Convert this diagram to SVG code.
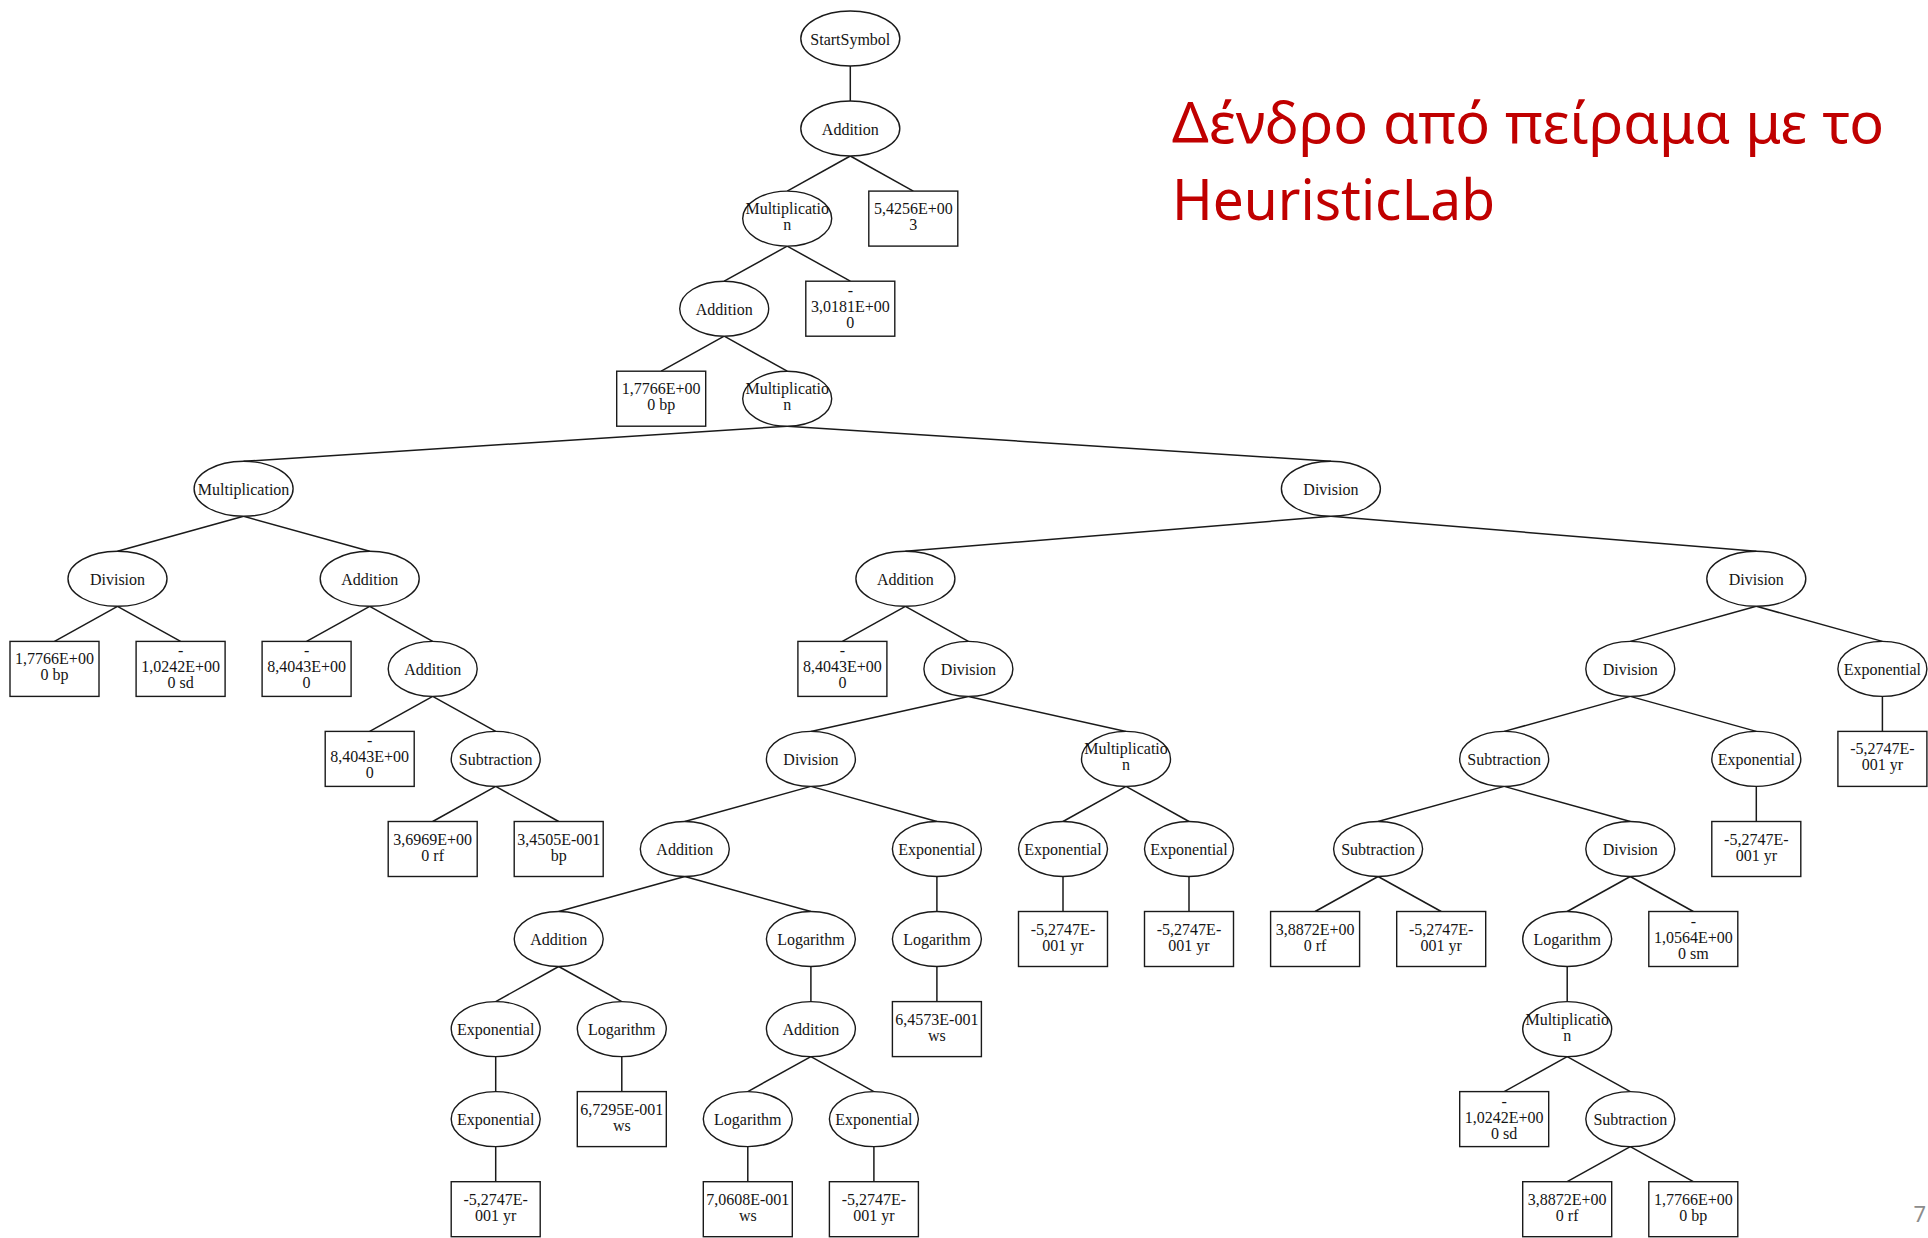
<svg xmlns="http://www.w3.org/2000/svg" width="1928" height="1238" viewBox="0 0 1928 1238">
<style>
  .bg{fill:#ffffff}
  .e{fill:#ffffff;stroke:#1a1a1a;stroke-width:1.4}
  .b{fill:#ffffff;stroke:#1a1a1a;stroke-width:1.4}
  .t{font-family:"Liberation Serif","Times New Roman",serif;font-size:16px;fill:#141414;text-anchor:middle}
  #edges line{stroke:#1a1a1a;stroke-width:1.5}
  .title{font-family:"Noto Sans","Open Sans",sans-serif;font-size:56px;fill:#c00000}
  .pg{font-family:"Noto Sans",sans-serif;font-size:22px;fill:#8c8c8c;text-anchor:end}
</style>
<rect class="bg" x="0" y="0" width="1928" height="1238"/>

<g id="edges">
  <line x1="850.3" y1="66" x2="850.3" y2="101"/>
  <line x1="850.3" y1="156" x2="787.2" y2="191.1"/>
  <line x1="850.3" y1="156" x2="913.3" y2="191.1"/>
  <line x1="787.2" y1="246.1" x2="724.2" y2="281.2"/>
  <line x1="787.2" y1="246.1" x2="850.3" y2="281.2"/>
  <line x1="724.2" y1="336.2" x2="661.2" y2="371.2"/>
  <line x1="724.2" y1="336.2" x2="787.2" y2="371.2"/>
  <line x1="787.2" y1="426.2" x2="243.6" y2="461.3"/>
  <line x1="787.2" y1="426.2" x2="1330.9" y2="461.3"/>
  <line x1="243.6" y1="516.3" x2="117.5" y2="551.3"/>
  <line x1="243.6" y1="516.3" x2="369.7" y2="551.3"/>
  <line x1="1330.9" y1="516.3" x2="905.4" y2="551.3"/>
  <line x1="1330.9" y1="516.3" x2="1756.3" y2="551.3"/>
  <line x1="117.5" y1="606.3" x2="54.5" y2="641.4"/>
  <line x1="117.5" y1="606.3" x2="180.6" y2="641.4"/>
  <line x1="369.7" y1="606.3" x2="306.6" y2="641.4"/>
  <line x1="369.7" y1="606.3" x2="432.7" y2="641.4"/>
  <line x1="905.4" y1="606.3" x2="842.4" y2="641.4"/>
  <line x1="905.4" y1="606.3" x2="968.4" y2="641.4"/>
  <line x1="1756.3" y1="606.3" x2="1630.3" y2="641.4"/>
  <line x1="1756.3" y1="606.3" x2="1882.4" y2="641.4"/>
  <line x1="432.7" y1="696.4" x2="369.7" y2="731.4"/>
  <line x1="432.7" y1="696.4" x2="495.7" y2="731.4"/>
  <line x1="968.4" y1="696.4" x2="810.9" y2="731.4"/>
  <line x1="968.4" y1="696.4" x2="1126" y2="731.4"/>
  <line x1="1630.3" y1="696.4" x2="1504.2" y2="731.4"/>
  <line x1="1630.3" y1="696.4" x2="1756.3" y2="731.4"/>
  <line x1="1882.4" y1="696.4" x2="1882.4" y2="731.4"/>
  <line x1="495.7" y1="786.4" x2="432.7" y2="821.5"/>
  <line x1="495.7" y1="786.4" x2="558.7" y2="821.5"/>
  <line x1="810.9" y1="786.4" x2="684.8" y2="821.5"/>
  <line x1="810.9" y1="786.4" x2="936.9" y2="821.5"/>
  <line x1="1126" y1="786.4" x2="1063" y2="821.5"/>
  <line x1="1126" y1="786.4" x2="1189" y2="821.5"/>
  <line x1="1504.2" y1="786.4" x2="1378.1" y2="821.5"/>
  <line x1="1504.2" y1="786.4" x2="1630.3" y2="821.5"/>
  <line x1="1756.3" y1="786.4" x2="1756.3" y2="821.5"/>
  <line x1="684.8" y1="876.5" x2="558.7" y2="911.5"/>
  <line x1="684.8" y1="876.5" x2="810.9" y2="911.5"/>
  <line x1="936.9" y1="876.5" x2="936.9" y2="911.5"/>
  <line x1="1063" y1="876.5" x2="1063" y2="911.5"/>
  <line x1="1189" y1="876.5" x2="1189" y2="911.5"/>
  <line x1="1378.1" y1="876.5" x2="1315.1" y2="911.5"/>
  <line x1="1378.1" y1="876.5" x2="1441.2" y2="911.5"/>
  <line x1="1630.3" y1="876.5" x2="1567.2" y2="911.5"/>
  <line x1="1630.3" y1="876.5" x2="1693.3" y2="911.5"/>
  <line x1="558.7" y1="966.5" x2="495.7" y2="1001.6"/>
  <line x1="558.7" y1="966.5" x2="621.8" y2="1001.6"/>
  <line x1="810.9" y1="966.5" x2="810.9" y2="1001.6"/>
  <line x1="936.9" y1="966.5" x2="936.9" y2="1001.6"/>
  <line x1="1567.2" y1="966.5" x2="1567.2" y2="1001.6"/>
  <line x1="495.7" y1="1056.6" x2="495.7" y2="1091.6"/>
  <line x1="621.8" y1="1056.6" x2="621.8" y2="1091.6"/>
  <line x1="810.9" y1="1056.6" x2="747.8" y2="1091.6"/>
  <line x1="810.9" y1="1056.6" x2="873.9" y2="1091.6"/>
  <line x1="1567.2" y1="1056.6" x2="1504.2" y2="1091.6"/>
  <line x1="1567.2" y1="1056.6" x2="1630.3" y2="1091.6"/>
  <line x1="495.7" y1="1146.6" x2="495.7" y2="1181.7"/>
  <line x1="747.8" y1="1146.6" x2="747.8" y2="1181.7"/>
  <line x1="873.9" y1="1146.6" x2="873.9" y2="1181.7"/>
  <line x1="1630.3" y1="1146.6" x2="1567.2" y2="1181.7"/>
  <line x1="1630.3" y1="1146.6" x2="1693.3" y2="1181.7"/>
</g>

<!-- level 0-4 -->
<g id="n0"><ellipse class="e" cx="850.3" cy="38.5" rx="49.5" ry="27.5"/><text class="t" x="850.3" y="44.5">StartSymbol</text></g>
<g id="n1"><ellipse class="e" cx="850.3" cy="128.5" rx="49.5" ry="27.5"/><text class="t" x="850.3" y="134.5">Addition</text></g>
<g id="n2"><ellipse class="e" cx="787.2" cy="218.6" rx="44.5" ry="27.5"/><text class="t" x="787.2" y="214.1">Multiplicatio</text><text class="t" x="787.2" y="230.1">n</text></g>
<g id="n3"><rect class="b" x="868.8" y="191.1" width="89" height="55"/><text class="t" x="913.3" y="214.1">5,4256E+00</text><text class="t" x="913.3" y="230.1">3</text></g>
<g id="n4"><ellipse class="e" cx="724.2" cy="308.7" rx="44.5" ry="27.5"/><text class="t" x="724.2" y="314.7">Addition</text></g>
<g id="n5"><rect class="b" x="805.8" y="281.2" width="89" height="55"/><text class="t" x="850.3" y="296.2">-</text><text class="t" x="850.3" y="312.2">3,0181E+00</text><text class="t" x="850.3" y="328.2">0</text></g>
<g id="n6"><rect class="b" x="616.7" y="371.2" width="89" height="55"/><text class="t" x="661.2" y="394.2">1,7766E+00</text><text class="t" x="661.2" y="410.2">0 bp</text></g>
<g id="n7"><ellipse class="e" cx="787.2" cy="398.7" rx="44.5" ry="27.5"/><text class="t" x="787.2" y="394.2">Multiplicatio</text><text class="t" x="787.2" y="410.2">n</text></g>

<!-- level 5 -->
<g id="n8"><ellipse class="e" cx="243.6" cy="488.8" rx="49.5" ry="27.5"/><text class="t" x="243.6" y="494.8">Multiplication</text></g>
<g id="n9"><ellipse class="e" cx="1330.9" cy="488.8" rx="49.5" ry="27.5"/><text class="t" x="1330.9" y="494.8">Division</text></g>

<!-- level 6 -->
<g id="n10"><ellipse class="e" cx="117.5" cy="578.8" rx="49.5" ry="27.5"/><text class="t" x="117.5" y="584.8">Division</text></g>
<g id="n11"><ellipse class="e" cx="369.7" cy="578.8" rx="49.5" ry="27.5"/><text class="t" x="369.7" y="584.8">Addition</text></g>
<g id="n12"><ellipse class="e" cx="905.4" cy="578.8" rx="49.5" ry="27.5"/><text class="t" x="905.4" y="584.8">Addition</text></g>
<g id="n13"><ellipse class="e" cx="1756.3" cy="578.8" rx="49.5" ry="27.5"/><text class="t" x="1756.3" y="584.8">Division</text></g>

<!-- level 7 -->
<g id="n14"><rect class="b" x="10" y="641.4" width="89" height="55"/><text class="t" x="54.5" y="664.4">1,7766E+00</text><text class="t" x="54.5" y="680.4">0 bp</text></g>
<g id="n15"><rect class="b" x="136.1" y="641.4" width="89" height="55"/><text class="t" x="180.6" y="656.4">-</text><text class="t" x="180.6" y="672.4">1,0242E+00</text><text class="t" x="180.6" y="688.4">0 sd</text></g>
<g id="n16"><rect class="b" x="262.1" y="641.4" width="89" height="55"/><text class="t" x="306.6" y="656.4">-</text><text class="t" x="306.6" y="672.4">8,4043E+00</text><text class="t" x="306.6" y="688.4">0</text></g>
<g id="n17"><ellipse class="e" cx="432.7" cy="668.9" rx="44.5" ry="27.5"/><text class="t" x="432.7" y="674.9">Addition</text></g>
<g id="n18"><rect class="b" x="797.9" y="641.4" width="89" height="55"/><text class="t" x="842.4" y="656.4">-</text><text class="t" x="842.4" y="672.4">8,4043E+00</text><text class="t" x="842.4" y="688.4">0</text></g>
<g id="n19"><ellipse class="e" cx="968.4" cy="668.9" rx="44.5" ry="27.5"/><text class="t" x="968.4" y="674.9">Division</text></g>
<g id="n20"><ellipse class="e" cx="1630.3" cy="668.9" rx="44.5" ry="27.5"/><text class="t" x="1630.3" y="674.9">Division</text></g>
<g id="n21"><ellipse class="e" cx="1882.4" cy="668.9" rx="44.5" ry="27.5"/><text class="t" x="1882.4" y="674.9">Exponential</text></g>

<!-- level 8 -->
<g id="n22"><rect class="b" x="325.2" y="731.4" width="89" height="55"/><text class="t" x="369.7" y="746.4">-</text><text class="t" x="369.7" y="762.4">8,4043E+00</text><text class="t" x="369.7" y="778.4">0</text></g>
<g id="n23"><ellipse class="e" cx="495.7" cy="758.9" rx="44.5" ry="27.5"/><text class="t" x="495.7" y="764.9">Subtraction</text></g>
<g id="n24"><ellipse class="e" cx="810.9" cy="758.9" rx="44.5" ry="27.5"/><text class="t" x="810.9" y="764.9">Division</text></g>
<g id="n25"><ellipse class="e" cx="1126" cy="758.9" rx="44.5" ry="27.5"/><text class="t" x="1126" y="754.4">Multiplicatio</text><text class="t" x="1126" y="770.4">n</text></g>
<g id="n26"><ellipse class="e" cx="1504.2" cy="758.9" rx="44.5" ry="27.5"/><text class="t" x="1504.2" y="764.9">Subtraction</text></g>
<g id="n27"><ellipse class="e" cx="1756.3" cy="758.9" rx="44.5" ry="27.5"/><text class="t" x="1756.3" y="764.9">Exponential</text></g>
<g id="n28"><rect class="b" x="1837.9" y="731.4" width="89" height="55"/><text class="t" x="1882.4" y="754.4">-5,2747E-</text><text class="t" x="1882.4" y="770.4">001 yr</text></g>

<!-- level 9 -->
<g id="n29"><rect class="b" x="388.2" y="821.5" width="89" height="55"/><text class="t" x="432.7" y="844.5">3,6969E+00</text><text class="t" x="432.7" y="860.5">0 rf</text></g>
<g id="n30"><rect class="b" x="514.2" y="821.5" width="89" height="55"/><text class="t" x="558.7" y="844.5">3,4505E-001</text><text class="t" x="558.7" y="860.5">bp</text></g>
<g id="n31"><ellipse class="e" cx="684.8" cy="849" rx="44.5" ry="27.5"/><text class="t" x="684.8" y="855">Addition</text></g>
<g id="n32"><ellipse class="e" cx="936.9" cy="849" rx="44.5" ry="27.5"/><text class="t" x="936.9" y="855">Exponential</text></g>
<g id="n33"><ellipse class="e" cx="1063" cy="849" rx="44.5" ry="27.5"/><text class="t" x="1063" y="855">Exponential</text></g>
<g id="n34"><ellipse class="e" cx="1189" cy="849" rx="44.5" ry="27.5"/><text class="t" x="1189" y="855">Exponential</text></g>
<g id="n35"><ellipse class="e" cx="1378.1" cy="849" rx="44.5" ry="27.5"/><text class="t" x="1378.1" y="855">Subtraction</text></g>
<g id="n36"><ellipse class="e" cx="1630.3" cy="849" rx="44.5" ry="27.5"/><text class="t" x="1630.3" y="855">Division</text></g>
<g id="n37"><rect class="b" x="1711.8" y="821.5" width="89" height="55"/><text class="t" x="1756.3" y="844.5">-5,2747E-</text><text class="t" x="1756.3" y="860.5">001 yr</text></g>

<!-- level 10 -->
<g id="n38"><ellipse class="e" cx="558.7" cy="939" rx="44.5" ry="27.5"/><text class="t" x="558.7" y="945">Addition</text></g>
<g id="n39"><ellipse class="e" cx="810.9" cy="939" rx="44.5" ry="27.5"/><text class="t" x="810.9" y="945">Logarithm</text></g>
<g id="n40"><ellipse class="e" cx="936.9" cy="939" rx="44.5" ry="27.5"/><text class="t" x="936.9" y="945">Logarithm</text></g>
<g id="n41"><rect class="b" x="1018.5" y="911.5" width="89" height="55"/><text class="t" x="1063" y="934.5">-5,2747E-</text><text class="t" x="1063" y="950.5">001 yr</text></g>
<g id="n42"><rect class="b" x="1144.5" y="911.5" width="89" height="55"/><text class="t" x="1189" y="934.5">-5,2747E-</text><text class="t" x="1189" y="950.5">001 yr</text></g>
<g id="n43"><rect class="b" x="1270.6" y="911.5" width="89" height="55"/><text class="t" x="1315.1" y="934.5">3,8872E+00</text><text class="t" x="1315.1" y="950.5">0 rf</text></g>
<g id="n44"><rect class="b" x="1396.7" y="911.5" width="89" height="55"/><text class="t" x="1441.2" y="934.5">-5,2747E-</text><text class="t" x="1441.2" y="950.5">001 yr</text></g>
<g id="n45"><ellipse class="e" cx="1567.2" cy="939" rx="44.5" ry="27.5"/><text class="t" x="1567.2" y="945">Logarithm</text></g>
<g id="n46"><rect class="b" x="1648.8" y="911.5" width="89" height="55"/><text class="t" x="1693.3" y="926.5">-</text><text class="t" x="1693.3" y="942.5">1,0564E+00</text><text class="t" x="1693.3" y="958.5">0 sm</text></g>

<!-- level 11 -->
<g id="n47"><ellipse class="e" cx="495.7" cy="1029.1" rx="44.5" ry="27.5"/><text class="t" x="495.7" y="1035.1">Exponential</text></g>
<g id="n48"><ellipse class="e" cx="621.8" cy="1029.1" rx="44.5" ry="27.5"/><text class="t" x="621.8" y="1035.1">Logarithm</text></g>
<g id="n49"><ellipse class="e" cx="810.9" cy="1029.1" rx="44.5" ry="27.5"/><text class="t" x="810.9" y="1035.1">Addition</text></g>
<g id="n50"><rect class="b" x="892.4" y="1001.6" width="89" height="55"/><text class="t" x="936.9" y="1024.6">6,4573E-001</text><text class="t" x="936.9" y="1040.6">ws</text></g>
<g id="n51"><ellipse class="e" cx="1567.2" cy="1029.1" rx="44.5" ry="27.5"/><text class="t" x="1567.2" y="1024.6">Multiplicatio</text><text class="t" x="1567.2" y="1040.6">n</text></g>

<!-- level 12 -->
<g id="n52"><ellipse class="e" cx="495.7" cy="1119.1" rx="44.5" ry="27.5"/><text class="t" x="495.7" y="1125.1">Exponential</text></g>
<g id="n53"><rect class="b" x="577.3" y="1091.6" width="89" height="55"/><text class="t" x="621.8" y="1114.6">6,7295E-001</text><text class="t" x="621.8" y="1130.6">ws</text></g>
<g id="n54"><ellipse class="e" cx="747.8" cy="1119.1" rx="44.5" ry="27.5"/><text class="t" x="747.8" y="1125.1">Logarithm</text></g>
<g id="n55"><ellipse class="e" cx="873.9" cy="1119.1" rx="44.5" ry="27.5"/><text class="t" x="873.9" y="1125.1">Exponential</text></g>
<g id="n56"><rect class="b" x="1459.7" y="1091.6" width="89" height="55"/><text class="t" x="1504.2" y="1106.6">-</text><text class="t" x="1504.2" y="1122.6">1,0242E+00</text><text class="t" x="1504.2" y="1138.6">0 sd</text></g>
<g id="n57"><ellipse class="e" cx="1630.3" cy="1119.1" rx="44.5" ry="27.5"/><text class="t" x="1630.3" y="1125.1">Subtraction</text></g>

<!-- level 13 -->
<g id="n58"><rect class="b" x="451.2" y="1181.7" width="89" height="55"/><text class="t" x="495.7" y="1204.7">-5,2747E-</text><text class="t" x="495.7" y="1220.7">001 yr</text></g>
<g id="n59"><rect class="b" x="703.3" y="1181.7" width="89" height="55"/><text class="t" x="747.8" y="1204.7">7,0608E-001</text><text class="t" x="747.8" y="1220.7">ws</text></g>
<g id="n60"><rect class="b" x="829.4" y="1181.7" width="89" height="55"/><text class="t" x="873.9" y="1204.7">-5,2747E-</text><text class="t" x="873.9" y="1220.7">001 yr</text></g>
<g id="n61"><rect class="b" x="1522.7" y="1181.7" width="89" height="55"/><text class="t" x="1567.2" y="1204.7">3,8872E+00</text><text class="t" x="1567.2" y="1220.7">0 rf</text></g>
<g id="n62"><rect class="b" x="1648.8" y="1181.7" width="89" height="55"/><text class="t" x="1693.3" y="1204.7">1,7766E+00</text><text class="t" x="1693.3" y="1220.7">0 bp</text></g>

<g id="title">
  <text class="title" x="1172" y="143" textLength="712" lengthAdjust="spacingAndGlyphs">Δένδρο από πείραμα με το</text>
  <text class="title" x="1172" y="220" textLength="323" lengthAdjust="spacingAndGlyphs">HeuristicLab</text>
</g>
<text class="pg" x="1926" y="1222">7</text>
</svg>
